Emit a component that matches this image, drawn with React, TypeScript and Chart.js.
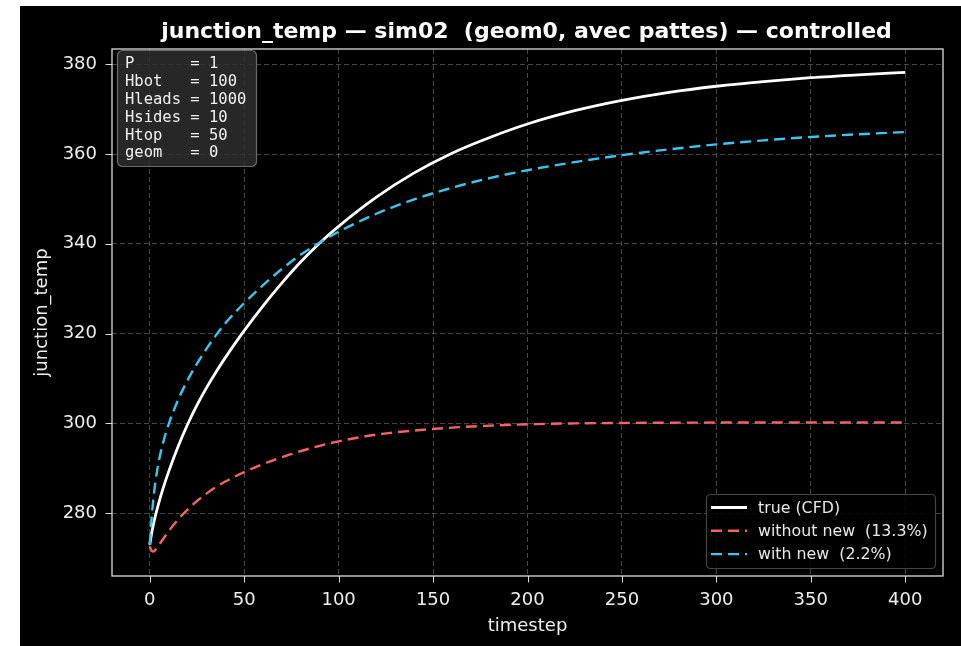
import React, { useEffect, useRef } from 'react';
import { Chart, registerables } from 'chart.js';

Chart.register(...registerables);

const W = 961;
const H = 646;

const CHART_TITLE = 'junction_temp — sim02  (geom0, avec pattes) — controlled';
const X_LABEL = 'timestep';
const Y_LABEL = 'junction_temp';

const timesteps = [0, 1, 2, 3, 5, 7, 10, 15, 20, 25, 30, 35, 40, 50, 60, 70, 80, 90, 100, 120, 140, 160, 180, 200, 225, 250, 275, 300, 325, 350, 375, 400];

const trueCFD = [272.95, 275.55, 277.65, 279.45, 282.65, 285.45, 289.25, 294.85, 299.75, 304.05, 307.9, 311.4, 314.65, 320.65, 326.2, 331.3, 336.0, 340.2, 343.9, 350.4, 355.8, 360.2, 363.7, 366.7, 369.65, 371.95, 373.75, 375.1, 376.15, 377.0, 377.65, 378.2];

const withoutNew = [272.6, 271.6, 271.45, 271.85, 273.0, 274.2, 276.0, 278.6, 280.8, 282.7, 284.35, 285.8, 287.05, 289.15, 290.95, 292.5, 293.85, 295.0, 296.0, 297.5, 298.4, 299.05, 299.5, 299.8, 300.0, 300.1, 300.15, 300.18, 300.2, 300.2, 300.2, 300.2];

const withNew = [273.0, 279.0, 283.5, 287.0, 292.0, 295.6, 299.8, 305.2, 309.6, 313.3, 316.6, 319.6, 322.3, 326.8, 330.8, 334.4, 337.6, 340.3, 342.7, 346.7, 349.9, 352.5, 354.65, 356.4, 358.2, 359.75, 361.05, 362.15, 363.05, 363.8, 364.4, 364.9];

const seriesLabels = ['true (CFD)', 'without new  (13.3%)', 'with new  (2.2%)'];
const seriesColors = ['#ffffff', '#f76262', '#3ac6f2'];

const xTicks = [0, 50, 100, 150, 200, 250, 300, 350, 400];
const yTicks = [280, 300, 320, 340, 360, 380];

const paramNames = ['P', 'Hbot', 'Hleads', 'Hsides', 'Htop', 'geom'];
const paramValues = [1, 100, 1000, 10, 50, 0];

const SANS = '"DejaVu Sans", sans-serif';
const MONO = '"DejaVu Sans Mono", monospace';

function toPoints(vals: number[]) {
  return timesteps.map((t, i) => ({ x: t, y: vals[i] }));
}

function rrect(ctx: CanvasRenderingContext2D, x: number, y: number, w: number, h: number, r: number) {
  ctx.beginPath();
  ctx.moveTo(x + r, y);
  ctx.lineTo(x + w - r, y);
  ctx.arcTo(x + w, y, x + w, y + r, r);
  ctx.lineTo(x + w, y + h - r);
  ctx.arcTo(x + w, y + h, x + w - r, y + h, r);
  ctx.lineTo(x + r, y + h);
  ctx.arcTo(x, y + h, x, y + h - r, r);
  ctx.lineTo(x, y + r);
  ctx.arcTo(x, y, x + r, y, r);
  ctx.closePath();
}

const decor = {
  id: 'decor',
  beforeDraw(chart: any) {
    const ctx = chart.ctx as CanvasRenderingContext2D;
    ctx.save();
    ctx.fillStyle = '#ffffff';
    ctx.fillRect(0, 0, W, H);
    ctx.fillStyle = '#000000';
    ctx.fillRect(20, 6, W - 20, H - 6);
    ctx.restore();
  },
  afterDatasetsDraw(chart: any) {
    const ctx = chart.ctx as CanvasRenderingContext2D;
    const a = chart.chartArea;
    const sx = chart.scales.x;
    const sy = chart.scales.y;
    ctx.save();

    // frame
    ctx.strokeStyle = '#dcdcdc';
    ctx.lineWidth = 1.3;
    ctx.setLineDash([]);
    ctx.strokeRect(a.left, a.top, a.right - a.left, a.bottom - a.top);

    // tick marks
    ctx.beginPath();
    xTicks.forEach((v) => {
      const x = Math.round(sx.getPixelForValue(v)) + 0.5;
      ctx.moveTo(x, a.bottom);
      ctx.lineTo(x, a.bottom + 6.5);
    });
    yTicks.forEach((v) => {
      const y = Math.round(sy.getPixelForValue(v)) + 0.5;
      ctx.moveTo(a.left, y);
      ctx.lineTo(a.left - 6.5, y);
    });
    ctx.lineWidth = 1;
    ctx.stroke();

    // title
    const cx = (a.left + a.right) / 2;
    ctx.fillStyle = '#ffffff';
    ctx.font = `bold 22px ${SANS}`;
    ctx.textAlign = 'center';
    ctx.textBaseline = 'alphabetic';
    ctx.fillText(CHART_TITLE, cx - 1, 38);

    // axis titles
    ctx.fillStyle = '#eeeeee';
    ctx.font = `18px ${SANS}`;
    ctx.fillText(X_LABEL, cx, 631);
    ctx.save();
    ctx.translate(47, (a.top + a.bottom) / 2);
    ctx.rotate(-Math.PI / 2);
    ctx.fillText(Y_LABEL, 0, 0);
    ctx.restore();

    // parameter box
    rrect(ctx, 117.5, 50.5, 139, 116, 5);
    ctx.fillStyle = 'rgba(48,48,48,0.82)';
    ctx.fill();
    ctx.strokeStyle = '#6a6a6a';
    ctx.lineWidth = 1.2;
    ctx.stroke();
    ctx.fillStyle = '#f0f0f0';
    ctx.font = `15.5px ${MONO}`;
    ctx.textAlign = 'left';
    ctx.textBaseline = 'alphabetic';
    paramNames.forEach((n, i) => {
      ctx.fillText(`${n.padEnd(6, ' ')} = ${paramValues[i]}`, 125, 68.3 + i * 17.8);
    });

    // legend
    rrect(ctx, 706.5, 494.5, 229, 74, 4);
    ctx.fillStyle = 'rgba(0,0,0,0.85)';
    ctx.fill();
    ctx.strokeStyle = '#444444';
    ctx.lineWidth = 1.2;
    ctx.stroke();
    const ds = chart.data.datasets;
    ctx.font = `15.8px ${SANS}`;
    ctx.textBaseline = 'middle';
    ds.forEach((d: any, i: number) => {
      const y = 507.5 + i * 23.3;
      ctx.beginPath();
      ctx.strokeStyle = d.borderColor;
      ctx.lineWidth = d.borderWidth;
      ctx.setLineDash(d.borderDash || []);
      ctx.moveTo(711, y);
      ctx.lineTo(747, y);
      ctx.stroke();
      ctx.setLineDash([]);
      ctx.fillStyle = '#e8e8e8';
      ctx.fillText(d.label, 758, y + 1);
    });

    ctx.restore();
  },
};

export default function App() {
  const ref = useRef<HTMLCanvasElement | null>(null);

  useEffect(() => {
    document.body.style.margin = '0';
    const canvas = ref.current;
    if (!canvas) return;
    const gridCommon = {
      color: 'rgba(255,255,255,0.3)',
      lineWidth: 0.9,
      drawTicks: false,
    };
    const chart = new Chart(canvas, {
      type: 'line',
      data: {
        datasets: [
          {
            label: seriesLabels[0],
            data: toPoints(trueCFD),
            borderColor: seriesColors[0],
            borderWidth: 2.8,
            pointRadius: 0,
            fill: false,
            cubicInterpolationMode: 'monotone',
            order: 3,
          },
          {
            label: seriesLabels[1],
            data: toPoints(withoutNew),
            borderColor: seriesColors[1],
            borderWidth: 2.4,
            borderDash: [11, 6],
            pointRadius: 0,
            fill: false,
            cubicInterpolationMode: 'monotone',
            order: 2,
          },
          {
            label: seriesLabels[2],
            data: toPoints(withNew),
            borderColor: seriesColors[2],
            borderWidth: 2.4,
            borderDash: [11, 6],
            pointRadius: 0,
            fill: false,
            cubicInterpolationMode: 'monotone',
            order: 1,
          },
        ],
      } as any,
      options: {
        responsive: false,
        animation: false,
        events: [],
        layout: { padding: { top: 49, right: 18, left: 0, bottom: 0 } },
        plugins: {
          legend: { display: false },
          title: { display: false },
          tooltip: { enabled: false },
        },
        scales: {
          x: {
            type: 'linear',
            min: -20,
            max: 420,
            afterBuildTicks: (s: any) => {
              s.ticks = xTicks.map((v) => ({ value: v }));
            },
            afterFit: (s: any) => {
              s.height = 70;
            },
            grid: gridCommon,
            border: { display: false, dash: [5, 3] },
            ticks: {
              color: '#eeeeee',
              font: { family: SANS, size: 18 },
              padding: 14,
              maxRotation: 0,
              autoSkip: false,
              callback: (v: any) => String(v),
            },
          },
          y: {
            type: 'linear',
            min: 266.0,
            max: 383.4,
            afterBuildTicks: (s: any) => {
              s.ticks = yTicks.map((v) => ({ value: v }));
            },
            afterFit: (s: any) => {
              s.width = 112;
            },
            grid: gridCommon,
            border: { display: false, dash: [5, 3] },
            ticks: {
              color: '#eeeeee',
              font: { family: SANS, size: 18 },
              padding: 15,
              autoSkip: false,
              callback: (v: any) => String(v),
            },
          },
        },
      } as any,
      plugins: [decor],
    });
    return () => chart.destroy();
  }, []);

  return (
    <div style={{ position: 'fixed', left: 0, top: 0, width: W, height: H }}>
      <canvas ref={ref} width={W} height={H} style={{ display: 'block', width: W, height: H }} />
    </div>
  );
}
